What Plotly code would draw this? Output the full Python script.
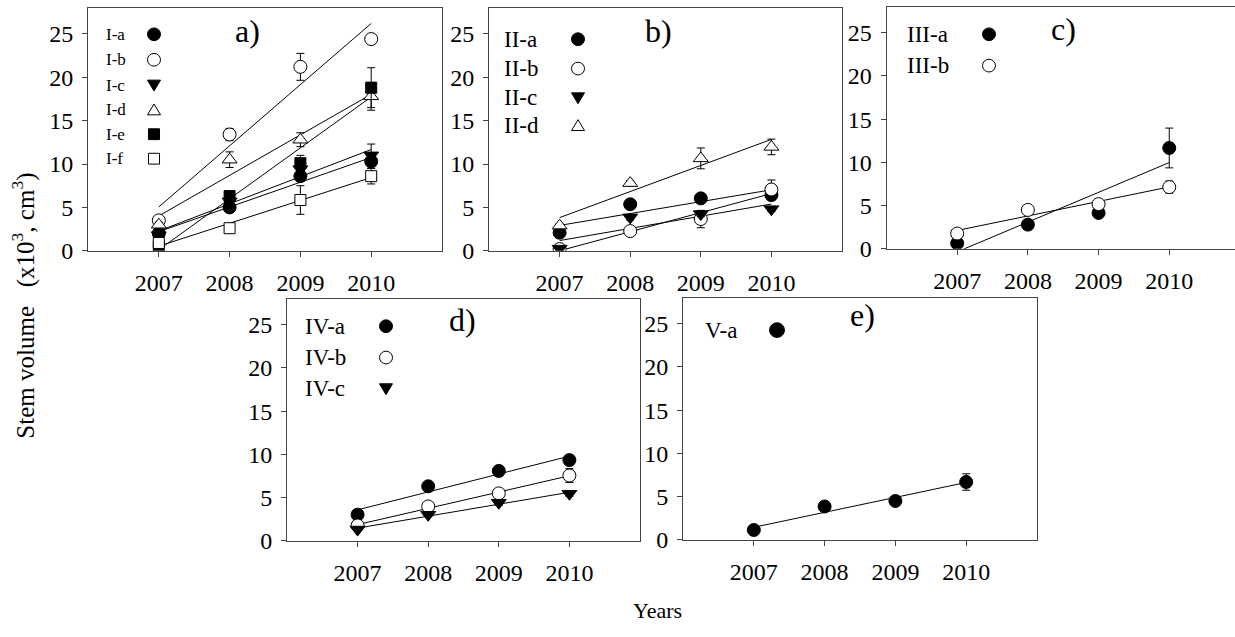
import numpy as np
import plotly.graph_objects as go

W, H = 1235, 637

years = [2007, 2008, 2009, 2010]
y_ticks = [0, 5, 10, 15, 20, 25]

# ---- panel a) ----
I_a = [2.0, 5.0, 8.6, 10.3]
I_a_err = [0.3, 0.4, 0.6, 0.8]
I_b = [3.5, 13.4, 21.2, 24.4]
I_b_err = [0.3, 0.7, 1.55, 0.5]
I_c = [1.8, 5.7, 9.4, 11.0]
I_c_err = [0.2, 0.4, 0.6, 1.3]
I_d = [3.0, 10.5, 12.8, 17.8]
I_d_err = [0.3, 0.9, 0.8, 1.6]
I_e = [0.5, 6.3, 10.1, 18.8]
I_e_err = [0.2, 0.4, 0.9, 2.3]
I_f = [0.9, 2.6, 5.85, 8.6]
I_f_err = [0.2, 0.3, 1.65, 0.9]

# ---- panel b) ----
II_a = [2.08, 5.36, 6.04, 6.42]
II_a_err = [0.2, 0.3, 0.3, 0.4]
II_b = [0.2, 2.27, 3.66, 7.06]
II_b_err = [0.1, 0.3, 1.0, 1.1]
II_c = [0.25, 3.85, 4.23, 4.8]
II_c_err = [0.1, 0.3, 0.3, 0.3]
II_d = [2.9, 7.8, 10.65, 11.97]
II_d_err = [0.2, 0.3, 1.2, 0.9]

# ---- panel c) ----
III_a = [0.64, 2.8, 4.15, 11.67]
III_a_err = [0.2, 0.3, 0.4, 2.3]
III_b = [1.77, 4.5, 5.17, 7.14]
III_b_err = [0.2, 0.3, 0.3, 0.7]

# ---- panel d) ----
IV_a = [3.02, 6.3, 8.08, 9.33]
IV_a_err = [0.2, 0.3, 0.6, 0.5]
IV_b = [1.77, 3.97, 5.48, 7.55]
IV_b_err = [0.2, 0.3, 0.3, 0.8]
IV_c = [1.3, 3.0, 4.4, 5.44]
IV_c_err = [0.1, 0.2, 0.3, 0.3]

# ---- panel e) ----
V_a = [1.13, 3.85, 4.49, 6.68]
V_a_err = [0.1, 0.3, 0.3, 0.95]

panels = [
    dict(tag="a)", names=["I-a", "I-b", "I-c", "I-d", "I-e", "I-f"],
         values=[I_a, I_b, I_c, I_d, I_e, I_f],
         errors=[I_a_err, I_b_err, I_c_err, I_d_err, I_e_err, I_f_err]),
    dict(tag="b)", names=["II-a", "II-b", "II-c", "II-d"],
         values=[II_a, II_b, II_c, II_d],
         errors=[II_a_err, II_b_err, II_c_err, II_d_err]),
    dict(tag="c)", names=["III-a", "III-b"],
         values=[III_a, III_b], errors=[III_a_err, III_b_err]),
    dict(tag="d)", names=["IV-a", "IV-b", "IV-c"],
         values=[IV_a, IV_b, IV_c], errors=[IV_a_err, IV_b_err, IV_c_err]),
    dict(tag="e)", names=["V-a"], values=[V_a], errors=[V_a_err]),
]

# layout (pixel) geometry of each panel
layout_px = [
    dict(x0=88, x1=442, y0=8, y1=256, xmax=2011, mirror_y=True,
         tag_xy=(247, 32), leg_x=104, leg_mx=154, leg_y=[35, 61, 87, 112, 137, 162], leg_fs=17, leg_ms=13),
    dict(x0=489, x1=842, y0=8, y1=256, xmax=2011, mirror_y=True,
         tag_xy=(659, 32), leg_x=502, leg_mx=578, leg_y=[40, 70, 100, 128], leg_fs=23, leg_ms=13),
    dict(x0=886.5, x1=1235, y0=7, y1=254, xmax=2010.93, mirror_y=False,
         tag_xy=(1063, 30), leg_x=905, leg_mx=989, leg_y=[35, 67], leg_fs=23, leg_ms=13),
    dict(x0=287, x1=640, y0=305, y1=552, xmax=2011, mirror_y=True,
         tag_xy=(463, 327), leg_x=303, leg_mx=386, leg_y=[333, 365, 397], leg_fs=23, leg_ms=13),
    dict(x0=683, x1=1037, y0=304, y1=551, xmax=2011, mirror_y=True,
         tag_xy=(862, 322), leg_x=703, leg_mx=777, leg_y=[337], leg_fs=23, leg_ms=15),
]

styles = {
    "a": dict(symbol="circle", fill="black", size=13),
    "b": dict(symbol="circle", fill="white", size=13),
    "c": dict(symbol="triangle-down", fill="black", size=13),
    "d": dict(symbol="triangle-up", fill="white", size=13),
    "e": dict(symbol="square", fill="black", size=11),
    "f": dict(symbol="square", fill="white", size=11),
}

FONT = "Liberation Serif"
AX = "#444444"

fig = go.Figure()
shapes = []
annotations = []


def px_x(p):
    return p / W


def px_y(p):
    return 1 - p / H


def legend_shape(kind, cx, cy, size):
    st = styles[kind]
    r = size / 2
    common = dict(xref="paper", yref="paper", fillcolor=st["fill"],
                  line=dict(color="black", width=1), layer="above")
    if st["symbol"] == "circle":
        return dict(type="circle", x0=px_x(cx - r), x1=px_x(cx + r),
                    y0=px_y(cy + r), y1=px_y(cy - r), **common)
    if st["symbol"] == "square":
        r = r * 0.85
        return dict(type="rect", x0=px_x(cx - r), x1=px_x(cx + r),
                    y0=px_y(cy + r), y1=px_y(cy - r), **common)
    if st["symbol"] == "triangle-down":
        pts = [(cx - r, cy - r * 0.8), (cx + r, cy - r * 0.8), (cx, cy + r * 0.9)]
    else:
        pts = [(cx - r, cy + r * 0.8), (cx + r, cy + r * 0.8), (cx, cy - r * 0.9)]
    path = "M " + " L ".join(f"{px_x(a):.5f},{px_y(b):.5f}" for a, b in pts) + " Z"
    return dict(type="path", path=path, **common)


for i, (pan, g) in enumerate(zip(panels, layout_px)):
    n = "" if i == 0 else str(i + 1)
    xa, ya = "x" + n, "y" + n
    # regression lines first
    for vals in pan["values"]:
        k, b = np.polyfit(years, vals, 1)
        xs = [years[0], years[-1]]
        fig.add_trace(go.Scatter(x=xs, y=[k * x + b for x in xs], mode="lines",
                                 line=dict(color="black", width=1),
                                 xaxis=xa, yaxis=ya, showlegend=False, hoverinfo="skip"))
    # markers
    for name, vals, errs in zip(pan["names"], pan["values"], pan["errors"]):
        st = styles[name.split("-")[1]]
        fig.add_trace(go.Scatter(
            x=years, y=vals, mode="markers", name=name,
            marker=dict(symbol=st["symbol"], size=st["size"], color=st["fill"],
                        line=dict(color="black", width=1)),
            error_y=dict(type="data", array=errs, visible=True, color="black",
                         thickness=1, width=4),
            xaxis=xa, yaxis=ya, showlegend=False))
    # axes
    common = dict(showline=True, linecolor=AX, linewidth=1, ticks="outside",
                  ticklen=5, tickcolor=AX, showgrid=False, zeroline=False,
                  tickfont=dict(family=FONT, size=24, color="black"))
    fig.layout["xaxis" + n] = dict(
        domain=[px_x(g["x0"]), min(1.0, px_x(g["x1"]))], range=[2006, g["xmax"]],
        tickvals=years, ticktext=[str(y) for y in years], mirror=True,
        anchor=ya, ticklabelstandoff=5, **common)
    fig.layout["yaxis" + n] = dict(
        domain=[px_y(g["y1"]), px_y(g["y0"])], range=[0, 28], tickvals=y_ticks,
        mirror=g["mirror_y"], anchor=xa, ticklabelstandoff=4, **common)
    # panel tag
    tx, ty = g["tag_xy"]
    annotations.append(dict(text=pan["tag"], x=px_x(tx), y=px_y(ty), xref="paper", yref="paper",
                            showarrow=False, xanchor="center", yanchor="middle",
                            font=dict(family=FONT, size=32, color="black")))
    # legend
    for name, ly in zip(pan["names"], g["leg_y"]):
        annotations.append(dict(text=name, x=px_x(g["leg_x"]), y=px_y(ly), xref="paper", yref="paper",
                                showarrow=False, xanchor="left", yanchor="middle",
                                font=dict(family=FONT, size=g["leg_fs"], color="black")))
        shapes.append(legend_shape(name.split("-")[1], g["leg_mx"], ly, g["leg_ms"]))

annotations.append(dict(text="Stem volume&nbsp;&nbsp; (x10<sup>3</sup>, cm<sup>3</sup>)",
                        x=px_x(24), y=px_y(312), xref="paper", yref="paper", textangle=-90,
                        showarrow=False, xanchor="center", yanchor="middle",
                        font=dict(family=FONT, size=25, color="black")))
annotations.append(dict(text="Years", x=px_x(657), y=px_y(623), xref="paper", yref="paper",
                        showarrow=False, xanchor="center", yanchor="middle",
                        font=dict(family=FONT, size=22, color="black")))

fig.update_layout(width=W, height=H, margin=dict(l=0, r=0, t=0, b=0),
                  paper_bgcolor="white", plot_bgcolor="white",
                  annotations=annotations, shapes=shapes, showlegend=False)

fig.write_html("out.html")
